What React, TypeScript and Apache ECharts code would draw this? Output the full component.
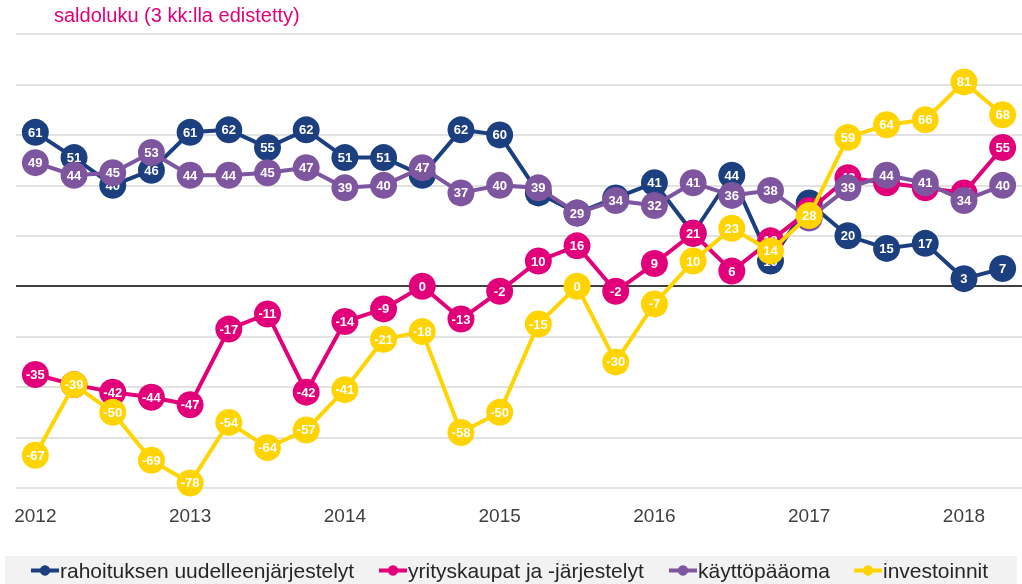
import React, { useEffect, useRef } from "react";
import * as echarts from "echarts";

const quarters = [
  "2012Q1","2012Q2","2012Q3","2012Q4",
  "2013Q1","2013Q2","2013Q3","2013Q4",
  "2014Q1","2014Q2","2014Q3","2014Q4",
  "2015Q1","2015Q2","2015Q3","2015Q4",
  "2016Q1","2016Q2","2016Q3","2016Q4",
  "2017Q1","2017Q2","2017Q3","2017Q4",
  "2018Q1","2018Q2",
];

const seriesNames = [
  "rahoituksen uudelleenjärjestelyt",
  "yrityskaupat ja -järjestelyt",
  "käyttöpääoma",
  "investoinnit",
];

const rahoitus = [61, 51, 40, 46, 61, 62, 55, 62, 51, 51, 44, 62, 60, 37, 29, 35, 41, 21, 44, 10, 33, 20, 15, 17, 3, 7];
const yrityskaupat = [-35, -39, -42, -44, -47, -17, -11, -42, -14, -9, 0, -13, -2, 10, 16, -2, 9, 21, 6, 18, 30, 43, 41, 39, 37, 55];
const kayttopaaoma = [49, 44, 45, 53, 44, 44, 45, 47, 39, 40, 47, 37, 40, 39, 29, 34, 32, 41, 36, 38, 27, 39, 44, 41, 34, 40];
const investoinnit = [-67, -39, -50, -69, -78, -54, -64, -57, -41, -21, -18, -58, -50, -15, 0, -30, -7, 10, 23, 14, 28, 59, 64, 66, 81, 68];

const colors = ["#1b3f7f", "#e2007a", "#7e56a0", "#ffd400"];
const legendLefts = [29, 377, 667, 852];

const FONT = '"Liberation Sans Narrow", "Liberation Sans", sans-serif';

export default function App() {
  const ref = useRef<HTMLDivElement>(null);

  useEffect(() => {
    if (!ref.current) return;
    const chart = echarts.init(ref.current, undefined, { renderer: "svg" });
    const values = [rahoitus, yrityskaupat, kayttopaaoma, investoinnit];

    const series: any[] = values.map((data, i) => ({
      name: seriesNames[i],
      type: "line",
      data,
      symbol: "circle",
      symbolSize: 27,
      color: colors[i],
      lineStyle: { width: 4, color: colors[i] },
      itemStyle: { color: colors[i] },
      label: {
        show: true,
        position: "inside",
        color: "#ffffff",
        fontSize: 13,
        fontWeight: "bold",
        fontFamily: FONT,
      },
      z: 2 + i,
      ...(i === 0
        ? {
            markLine: {
              silent: true,
              symbol: ["none", "none"],
              label: { show: false },
              lineStyle: { color: "#404040", width: 2, type: "solid" },
              data: [{ yAxis: 0 }],
              z: 1,
            },
          }
        : {}),
    }));

    chart.setOption({
      animation: false,
      textStyle: { fontFamily: FONT },
      title: {
        text: "saldoluku (3 kk:lla edistetty)",
        left: 49,
        top: 0,
        textStyle: { color: "#e2007a", fontSize: 20, fontWeight: "normal", fontFamily: FONT },
      },
      graphic: [
        {
          type: "rect",
          left: 5,
          top: 556,
          shape: { width: 1012, height: 28 },
          style: { fill: "#f2f2f2" },
          z: -1,
        },
      ],
      legend: seriesNames.map((name, i) => ({
        data: [name],
        left: legendLefts[i],
        top: 560,
        padding: 0,
        itemWidth: 28,
        itemHeight: 13,
        itemGap: 0,
        lineStyle: { width: 4 },
        textStyle: { fontSize: 21, color: "#262626", fontFamily: FONT, padding: [0, 0, 0, -4] },
      })),
      grid: { left: 16, right: 0, top: 34, bottom: 96, containLabel: false },
      xAxis: {
        type: "category",
        data: quarters,
        boundaryGap: true,
        axisLine: { show: false },
        axisTick: { show: false },
        axisLabel: {
          interval: 0,
          margin: 18,
          fontSize: 19,
          color: "#404040",
          fontFamily: FONT,
          formatter: (v: string) => (v.endsWith("Q1") ? v.slice(0, 4) : ""),
        },
      },
      yAxis: {
        type: "value",
        min: -80,
        max: 100,
        interval: 20,
        axisLabel: { show: false },
        axisLine: { show: false },
        axisTick: { show: false },
        splitLine: { lineStyle: { color: "#d9d9d9", width: 1.5 } },
      },
      series,
    });

    return () => chart.dispose();
  }, []);

  return (
    <div
      ref={ref}
      style={{ position: "fixed", left: 0, top: 0, width: 1022, height: 584 }}
    />
  );
}
